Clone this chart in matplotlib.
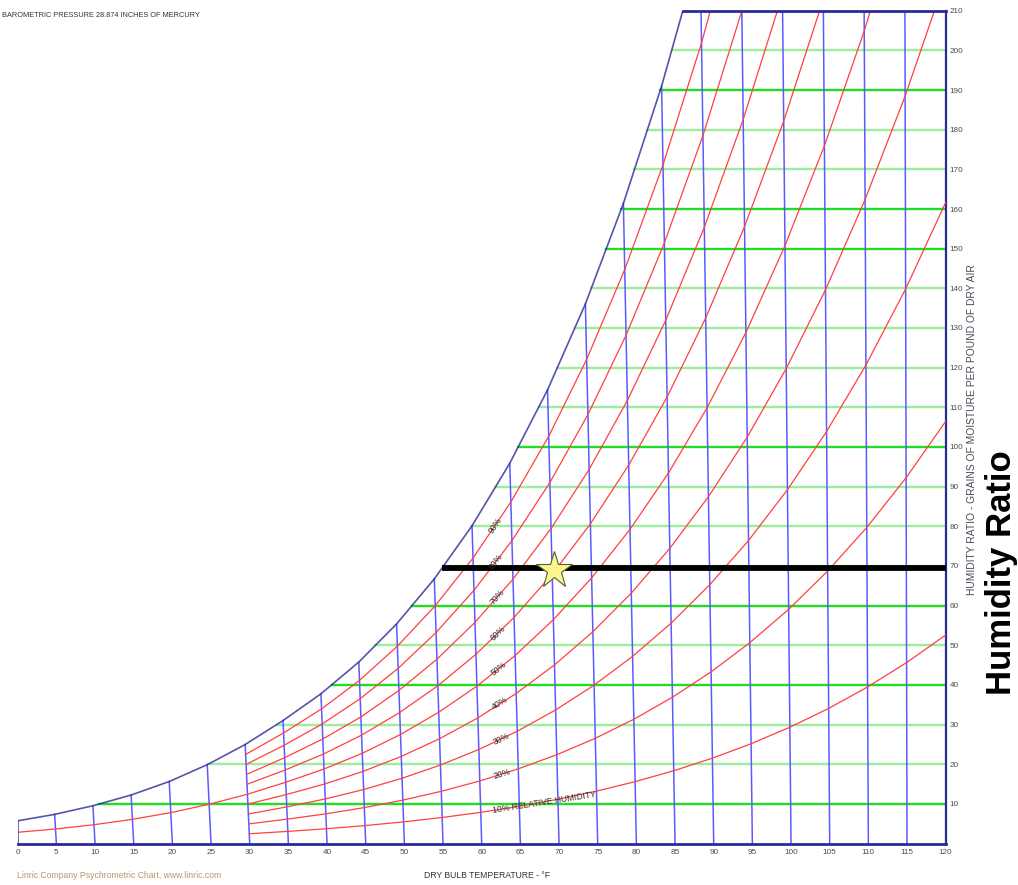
import numpy as np
import matplotlib
matplotlib.use('Agg')
from matplotlib import pyplot as plt

# dry bulb grid (deg F) and humidity ratio grid (grains / lb dry air)
DB_TEMPS = list(range(0, 121, 5))
W_TICKS = list(range(10, 211, 10))

# saturation curve, read at every 5 F
SAT_TEMPS = list(range(0, 91, 5))
SAT_W = [5.68, 7.37, 9.54, 12.25, 15.65, 19.89, 24.98, 31.03, 37.77, 45.77,
         55.37, 66.74, 80.13, 95.89, 114.39, 136.07, 161.40, 190.98, 225.46]

# relative humidity curves (grains), 50% starts at 0 F, the others at 30 F
RH_LEVELS = [10, 20, 30, 40, 50, 60, 70, 80, 90]
RH_START = [30, 30, 30, 30, 0, 30, 30, 30, 30]
RH10_W = [2.49, 3.08, 3.75, 4.54, 5.48, 6.58, 7.88, 9.40, 11.18, 13.23, 15.62,
          18.37, 21.54, 25.18, 29.34, 34.09, 39.49, 45.64, 52.59]
RH20_W = [4.97, 6.17, 7.50, 9.08, 10.96, 13.19, 15.79, 18.85, 22.41, 26.55, 31.35,
          36.90, 43.30, 50.65, 59.07, 68.71, 79.71, 92.24, 106.47]
RH30_W = [7.46, 9.26, 11.26, 13.63, 16.47, 19.81, 23.73, 28.33, 33.70, 39.95, 47.20,
          55.59, 65.27, 76.41, 89.22, 103.89, 120.67, 139.84, 161.68]
RH40_W = [9.96, 12.36, 15.03, 18.20, 21.98, 26.45, 31.70, 37.86, 45.05, 53.43, 63.16,
          74.43, 87.46, 102.48, 119.77, 139.62, 162.39, 188.47, 218.27]
RH50_W = [2.84, 3.68, 4.76, 6.12, 7.81, 9.92, 12.45, 15.46, 18.80, 22.77, 27.51, 33.12,
          39.70, 47.42, 56.46, 66.99, 79.23, 93.44, 109.88, 128.86, 150.75, 175.94,
          204.90, 238.16]
RH60_W = [14.95, 18.56, 22.58, 27.35, 33.06, 39.80, 47.73, 57.03, 67.92, 80.63, 95.43,
          112.61, 132.53, 155.56, 182.16, 212.85]
RH70_W = [17.45, 21.67, 26.37, 31.94, 38.61, 46.50, 55.78, 66.68, 79.45, 94.36, 111.74,
          131.95, 155.40, 182.57, 214.01]
RH80_W = [19.96, 24.79, 30.16, 36.54, 44.19, 53.23, 63.87, 76.38, 91.04, 108.18, 128.17,
          151.46, 178.51, 209.91, 246.31]
RH90_W = [22.47, 27.90, 33.96, 41.15, 49.77, 59.97, 71.99, 86.11, 102.69, 122.08, 144.73,
          171.13, 201.86, 237.58]
RH_CURVES = [RH10_W, RH20_W, RH30_W, RH40_W, RH50_W, RH60_W, RH70_W, RH80_W, RH90_W]

# marked state point and its humidity ratio line
STAR_T = 70.2
STAR_W = 69.0
LINE_W = 69.4

SKEW = 0.00026      # dry bulb lines lean left going up (none at 120 F)
W_TOP = 210

plt.rcParams['font.family'] = ['Liberation Sans', 'DejaVu Sans']

BLUE = '#5a5aff'
NAVY = '#2a2a96'
RED = '#ff4040'
GREEN_HI = '#22dd22'
GREEN_LO = '#9cee9c'
GREEN_BRIGHT = {10, 40, 60, 100, 150, 160, 190}
TXT = '#4a4a5a'


def skew(t, w):
    t = np.asarray(t, dtype=float)
    w = np.asarray(w, dtype=float)
    return t - SKEW * (120 - t) * w


fig = plt.figure(figsize=(10.18, 8.85), dpi=100)
ax = fig.add_axes([0.01739, 0.04678, 0.91159, 0.94113])
ax.set_xlim(0, 120)
ax.set_ylim(0, W_TOP)

sat_x = skew(SAT_TEMPS, SAT_W)

# constant humidity ratio lines
for w in range(10, 201, 10):
    x0 = np.interp(w, SAT_W, sat_x)
    c = GREEN_HI if w in GREEN_BRIGHT else GREEN_LO
    ax.plot([x0, 120], [w, w], color=c, lw=1.7, zorder=1)

# dry bulb lines
for i, t in enumerate(DB_TEMPS[:-1]):
    top = SAT_W[i] if t <= 85 else W_TOP
    ax.plot([t, skew(t, top)], [0, top], color=BLUE, lw=1.1, zorder=2)

# relative humidity curves
for start, ws in zip(RH_START, RH_CURVES):
    ts = np.arange(start, start + 5 * len(ws), 5)
    ax.plot(skew(ts, ws), ws, color=RED, lw=0.9, zorder=3)

# saturation curve + top border
ax.plot(sat_x, SAT_W, color=NAVY, lw=1.2, alpha=0.8, zorder=4)
corner = np.interp(W_TOP, SAT_W, sat_x)
ax.plot([corner, 120], [W_TOP, W_TOP], color=NAVY, lw=2, clip_on=False, zorder=4)
ax.plot([0, 0], [0, SAT_W[0]], color=NAVY, lw=1.2, alpha=0.8, zorder=4)

# highlighted humidity ratio + state point
x_line = np.interp(LINE_W, SAT_W, sat_x)
ax.plot([x_line, 120], [LINE_W, LINE_W], color='black', lw=4.2,
        solid_capstyle='butt', zorder=5)
ax.plot(skew(STAR_T, STAR_W), STAR_W, marker='*', ms=28, mfc='#fbf78c',
        mec='#5a5a3a', mew=0.8, zorder=6)

# RH labels along the curves
for lvl, start, ws in zip(RH_LEVELS, RH_START, RH_CURVES):
    ts = np.arange(start, start + 5 * len(ws), 5)
    t_lab = 62.9 if lvl > 10 else 61.5
    w_lab = np.interp(t_lab, ts, ws)
    p1 = ax.transData.transform((skew(60, np.interp(60, ts, ws)), np.interp(60, ts, ws)))
    p2 = ax.transData.transform((skew(65, np.interp(65, ts, ws)), np.interp(65, ts, ws)))
    ang = np.degrees(np.arctan2(p2[1] - p1[1], p2[0] - p1[0]))
    if lvl == 10:
        ax.text(skew(t_lab, w_lab), w_lab, '10% RELATIVE HUMIDITY', fontsize=6.2,
                color='#333333', rotation=ang, rotation_mode='anchor',
                ha='left', va='center', zorder=7)
    else:
        ax.text(skew(t_lab, w_lab), w_lab, f'{lvl}%', fontsize=6.2, color='#2a2a2a',
                rotation=ang, rotation_mode='anchor', ha='center', va='center', zorder=7)

# axes
for s in ['left', 'top']:
    ax.spines[s].set_visible(False)
ax.spines['bottom'].set_color(NAVY)
ax.spines['bottom'].set_linewidth(2)
ax.spines['right'].set_color(NAVY)
ax.spines['right'].set_linewidth(1.6)

ax.set_xticks(DB_TEMPS)
ax.set_xticklabels([str(t) for t in DB_TEMPS])
ax.yaxis.tick_right()
ax.set_yticks(W_TICKS)
ax.set_yticklabels([str(w) for w in W_TICKS])
ax.tick_params(axis='both', length=0, labelsize=5.9, labelcolor=TXT)
ax.tick_params(axis='x', pad=4)
ax.tick_params(axis='y', pad=3)

fig.text(0.955, 0.515, 'HUMIDITY RATIO - GRAINS OF MOISTURE PER POUND OF DRY AIR',
         rotation=90, fontsize=7.4, color=TXT, ha='center', va='center')
fig.text(0.984, 0.353, 'Humidity Ratio', rotation=90, fontsize=25, fontweight='bold',
         color='black', ha='center', va='center')
fig.text(0.478, 0.0102, 'DRY BULB TEMPERATURE - \u00b0F', fontsize=6.2, color='#333333',
         ha='center', va='center')
fig.text(0.017, 0.0102, 'Linric Company Psychrometric Chart, www.linric.com',
         fontsize=6.2, color='#b8956a', ha='left', va='center')
fig.text(0.002, 0.983, 'BAROMETRIC PRESSURE 28.874 INCHES OF MERCURY', fontsize=5.3,
         color='#333333', ha='left', va='center')

fig.savefig('out.png', dpi=100)
